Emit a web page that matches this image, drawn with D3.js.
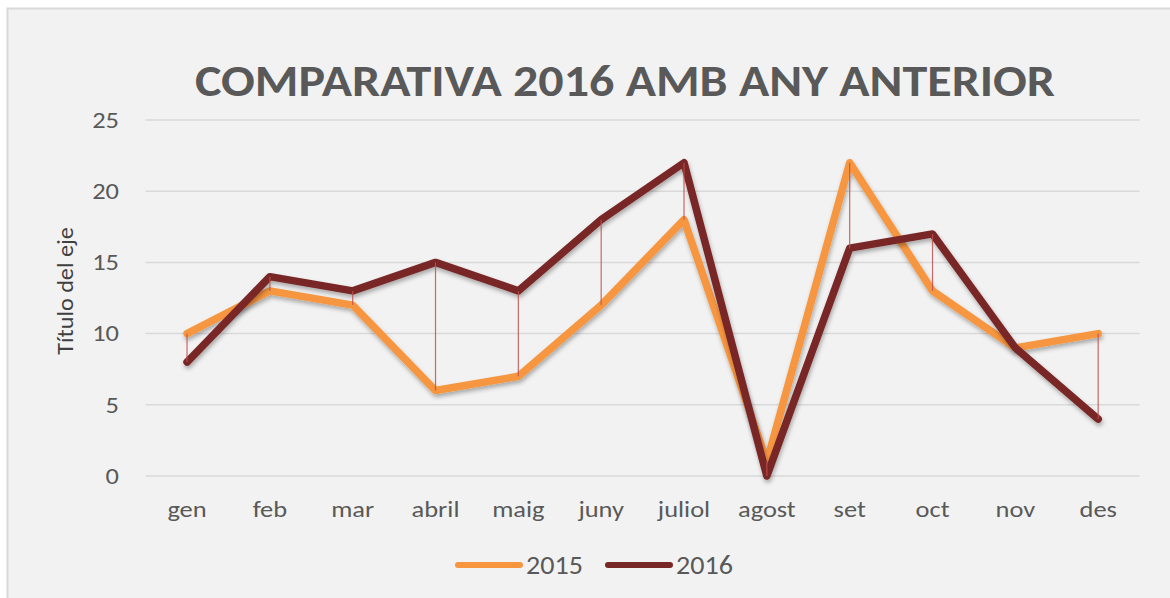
<!DOCTYPE html>
<html><head><meta charset="utf-8">
<script src="https://cdn.jsdelivr.net/npm/d3@7"></script>
<style>html,body{margin:0;padding:0;background:#fff;}svg{display:block;}</style>
</head><body>
<svg id="c" width="1170" height="598"></svg>
<script>
const categories = ["gen","feb","mar","abril","maig","juny","juliol","agost","set","oct","nov","des"];
const values2015 = [10,13,12,6,7,12,18,1,22,13,9,10];
const values2016 = [8,14,13,15,13,18,22,0,16,17,9,4];
const yTicks = [0,5,10,15,20,25];
const seriesNames = ["2015","2016"];
const colors = ["#f7963f","#782727"];

const svg = d3.select("#c");
const W = 1170, H = 598;
svg.append("rect").attr("x",7.5).attr("y",8.5).attr("width",W).attr("height",H).attr("fill","#f2f2f2").attr("stroke","#d9d9d9").attr("stroke-width",2);

const defs = svg.append("defs");
const f = defs.append("filter").attr("id","sh").attr("x","-10%").attr("y","-10%").attr("width","120%").attr("height","130%");
f.append("feDropShadow").attr("dx",1).attr("dy",3).attr("stdDeviation",2).attr("flood-color","#000").attr("flood-opacity",0.3);

const x = d3.scaleBand().domain(categories).range([145.6,1139.6]);
const y = d3.scaleLinear().domain([0,25]).range([476,120]);
const font = "Carlito, 'Open Sans', 'Liberation Sans', sans-serif";
const sx = 1.15;

svg.append("g").selectAll("line").data(yTicks).join("line")
  .attr("x1",145.6).attr("x2",1139.6).attr("y1",d=>y(d)).attr("y2",d=>y(d))
  .attr("stroke","#d9d9d9").attr("stroke-width",1.5);

const yAxis = svg.append("g").attr("transform","translate(119,0)")
  .call(d3.axisLeft(y).tickValues(yTicks).tickSize(0).tickPadding(0));
yAxis.select(".domain").remove();
yAxis.selectAll("text").attr("font-family",font).attr("font-size",23).attr("fill","#595959")
  .attr("x",0).attr("transform",`scale(${sx},1)`);

const xAxis = svg.append("g").attr("transform","translate(0,476)")
  .call(d3.axisBottom(x).tickSize(0).tickPadding(0));
xAxis.select(".domain").remove();
xAxis.selectAll("text").attr("font-family",font).attr("font-size",23).attr("fill","#595959")
  .attr("y",41).attr("dy",0).attr("transform",`scale(${sx},1)`);

svg.append("text").attr("transform","translate(73,291) rotate(-90) scale(1.1,1)").attr("text-anchor","middle")
  .attr("font-family",font).attr("font-size",22).attr("fill","#404040").text("Título del eje");

svg.append("text").attr("x",625).attr("y",96).attr("text-anchor","middle")
  .attr("font-family",font).attr("font-weight","bold").attr("font-size",44).attr("fill","#595959")
  .attr("textLength",860).attr("lengthAdjust","spacingAndGlyphs")
  .text("COMPARATIVA 2016 AMB ANY ANTERIOR");

const cx = d => x(d) + x.bandwidth()/2;
const line = d3.line().x(d=>cx(d.c)).y(d=>y(d.v));
const data = [values2015, values2016].map(vals => categories.map((c,i)=>({c, v: vals[i]})));

data.forEach((s,i) => {
  svg.append("path").datum(s).attr("d",line).attr("fill","none")
    .attr("stroke",colors[i]).attr("stroke-width",7.5).attr("stroke-linejoin","round").attr("stroke-linecap","round")
    .attr("filter","url(#sh)");
});

svg.append("g").selectAll("line").data(categories).join("line")
  .attr("x1",d=>cx(d)).attr("x2",d=>cx(d))
  .attr("y1",(d,i)=>y(values2015[i])).attr("y2",(d,i)=>y(values2016[i]))
  .attr("stroke","#c0504d").attr("stroke-opacity",0.85).attr("stroke-width",1.2);

const leg = [{x:458,name:seriesNames[0],col:colors[0]},{x:608,name:seriesNames[1],col:colors[1]}];
const lg = svg.append("g");
leg.forEach(l => {
  lg.append("line").attr("x1",l.x).attr("x2",l.x+62).attr("y1",565).attr("y2",565)
    .attr("stroke",l.col).attr("stroke-width",6).attr("stroke-linecap","round");
  lg.append("text").attr("transform",`translate(${l.x+68},574) scale(1.08,1)`).attr("font-family",font).attr("font-size",26)
    .attr("fill","#595959").text(l.name);
});
</script>
</body></html>
